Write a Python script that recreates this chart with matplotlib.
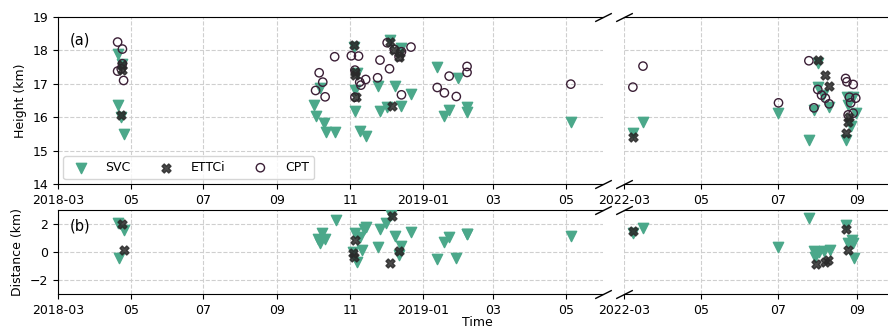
import matplotlib
matplotlib.use('Agg')
import matplotlib.pyplot as plt
import matplotlib.dates as mdates
import pandas as pd

plt.rcParams['font.family'] = ['DejaVu Sans']
plt.rcParams['font.size'] = 9

# ---------------- data ----------------
svc_h_dates = ['2018-04-20', '2018-04-24', '2018-04-20', '2018-04-23', '2018-04-25',
               '2018-10-02', '2018-10-03', '2018-10-07', '2018-10-10', '2018-10-12', '2018-10-19',
               '2018-11-04', '2018-11-05', '2018-11-05', '2018-11-07', '2018-11-09', '2018-11-14',
               '2018-11-24', '2018-11-26', '2018-12-02', '2018-12-04', '2018-12-09', '2018-12-14',
               '2018-12-14', '2018-12-22', '2019-01-13', '2019-01-19', '2019-01-23', '2019-01-30',
               '2019-02-07', '2019-02-07', '2019-05-05',
               '2022-03-08', '2022-03-16', '2022-07-01', '2022-07-25', '2022-07-29', '2022-08-01',
               '2022-08-01', '2022-08-05', '2022-08-10', '2022-08-23', '2022-08-24', '2022-08-25',
               '2022-08-27', '2022-08-29', '2022-08-31']
svc_h = [17.88, 17.60, 16.38, 16.02, 15.50,
         16.37, 16.04, 16.86, 15.82, 15.57, 15.57,
         18.11, 16.18, 16.81, 17.31, 15.59, 15.44,
         16.93, 16.18, 16.30, 18.31, 16.93, 18.06,
         16.33, 16.69, 17.49, 16.04, 16.22, 17.16,
         16.31, 16.17, 15.87,
         15.52, 15.87, 16.13, 15.32, 16.23, 17.61,
         16.91, 16.66, 16.31, 15.32, 16.61, 16.37,
         15.74, 16.61, 16.12]

ettci_h_dates = ['2018-04-24', '2018-04-24', '2018-04-23',
                 '2018-11-04', '2018-11-05', '2018-11-05', '2018-11-06',
                 '2018-12-04', '2018-12-08', '2018-12-12', '2018-12-13', '2018-12-06',
                 '2022-03-08', '2022-08-01', '2022-08-07', '2022-08-10', '2022-08-23',
                 '2022-08-25', '2022-08-26']
ettci_h = [17.55, 17.40, 16.07,
           18.17, 17.36, 17.26, 16.61,
           18.26, 18.01, 17.81, 17.91, 16.33,
           15.42, 17.71, 17.26, 16.93, 15.54,
           15.87, 16.00]

cpt_dates = ['2018-04-20', '2018-04-24', '2018-04-24', '2018-04-20', '2018-04-25', '2018-04-23',
             '2018-10-06', '2018-10-09', '2018-10-03', '2018-10-11', '2018-10-19',
             '2018-11-02', '2018-11-08', '2018-11-05', '2018-11-09', '2018-11-10', '2018-11-14',
             '2018-11-05', '2018-11-24', '2018-11-26', '2018-12-04', '2018-12-02', '2018-12-08',
             '2018-12-14', '2018-12-12', '2018-12-22', '2018-12-14', '2019-01-13', '2019-01-19',
             '2019-01-23', '2019-01-29', '2019-02-07', '2019-02-07', '2019-05-05',
             '2022-03-08', '2022-03-16', '2022-07-01', '2022-07-25', '2022-07-29', '2022-08-01',
             '2022-08-04', '2022-08-07', '2022-08-10', '2022-08-23', '2022-08-24', '2022-08-29',
             '2022-08-26', '2022-08-27', '2022-08-31', '2022-08-25', '2022-08-29']
cpt_h = [18.25, 18.04, 17.60, 17.38, 17.10, 17.45,
         17.33, 17.05, 16.80, 16.61, 17.81,
         17.84, 17.83, 17.41, 17.05, 16.96, 17.13,
         16.60, 17.18, 17.71, 17.45, 18.23, 18.03,
         17.96, 17.81, 18.10, 16.67, 16.89, 16.73,
         17.23, 16.62, 17.52, 17.34, 16.99,
         16.90, 17.53, 16.43, 17.69, 16.28, 16.83,
         16.66, 16.57, 16.40, 17.16, 17.06, 16.98,
         16.60, 16.43, 16.57, 16.07, 16.12]

svc_d_dates = ['2018-04-20', '2018-04-25', '2018-04-21',
               '2018-10-05', '2018-10-07', '2018-10-08', '2018-10-11', '2018-10-20',
               '2018-11-05', '2018-11-03', '2018-11-11', '2018-11-07', '2018-11-09', '2018-11-13',
               '2018-11-14', '2018-11-24', '2018-11-26', '2018-12-01', '2018-12-05', '2018-12-09',
               '2018-12-12', '2018-12-14', '2018-12-22', '2019-01-13', '2019-01-19', '2019-01-23',
               '2019-01-29', '2019-02-07', '2019-02-07', '2019-05-05',
               '2022-03-08', '2022-03-16', '2022-07-01', '2022-07-25', '2022-07-29', '2022-08-02',
               '2022-08-06', '2022-08-11', '2022-07-30', '2022-08-23', '2022-08-25', '2022-08-29',
               '2022-08-30', '2022-08-28']
svc_d = [2.07, 1.55, -0.43,
         0.90, 0.62, 1.38, 0.90, 2.29,
         1.38, 0.02, 0.14, -0.69, 1.10, 1.62,
         1.76, 0.33, 1.62, 2.05, 2.64, 1.14,
         -0.21, 0.43, 1.45, -0.50, 0.74, 1.10,
         -0.45, 1.26, 1.30, 1.14,
         1.38, 1.74, 0.33, 2.40, 0.10, 0.02,
         0.10, 0.14, -0.33, 1.93, 0.62, 0.62,
         -0.45, 0.86]

ettci_d_dates = ['2018-04-24', '2018-04-25',
                 '2018-11-05', '2018-11-03', '2018-11-04', '2018-12-04', '2018-12-06', '2018-12-12',
                 '2022-03-08', '2022-07-31', '2022-08-07', '2022-08-09', '2022-08-23', '2022-08-25']
ettci_d = [2.00, 0.14,
           0.86, -0.10, -0.33, -0.76, 2.57, 0.10,
           1.52, -0.86, -0.69, -0.57, 1.62, 0.14]

left_lim = ['2018-03-01', '2019-06-01']
right_lim = ['2022-03-01', '2022-10-01']
series_labels = ['SVC', 'ETTCi', 'CPT']

# ---------------- styling ----------------
c_svc = '#4ba88a'
c_ettci = '#2a2a2a'
c_cpt = '#3b1f36'

W, H = 888, 329
fig = plt.figure(figsize=(W / 100, H / 100), dpi=100)


def rect(x0, x1, y0, y1):
    return [x0 / W, 1 - y1 / H, (x1 - x0) / W, (y1 - y0) / H]


ax_a1 = fig.add_axes(rect(58, 603, 17, 184))
ax_a2 = fig.add_axes(rect(624, 895, 17, 184))
ax_b1 = fig.add_axes(rect(58, 603, 210, 294))
ax_b2 = fig.add_axes(rect(624, 895, 210, 294))


def fmt(x, pos):
    d = mdates.num2date(x)
    if pos == 0 or d.month == 1:
        return d.strftime('%Y-%m')
    return d.strftime('%m')


def dt(lst):
    return pd.to_datetime(lst)


for ax in (ax_a1, ax_a2):
    ax.scatter(dt(svc_h_dates), svc_h, marker='v', s=55, color=c_svc, zorder=3, label=series_labels[0])
    ax.scatter(dt(cpt_dates), cpt_h, marker='o', s=36, facecolor='none', edgecolor=c_cpt,
               linewidths=1.0, zorder=4, label=series_labels[2])
    ax.scatter(dt(ettci_h_dates), ettci_h, marker='X', s=42, color=c_ettci, alpha=0.85,
               zorder=5, label=series_labels[1])
    ax.set_ylim(14, 19)

for ax in (ax_b1, ax_b2):
    ax.scatter(dt(svc_d_dates), svc_d, marker='v', s=55, color=c_svc, zorder=3)
    ax.scatter(dt(ettci_d_dates), ettci_d, marker='X', s=42, color=c_ettci, alpha=0.85, zorder=5)
    ax.set_ylim(-3, 3)
    ax.set_yticks([-2, 0, 2])

for ax in (ax_a1, ax_b1):
    ax.set_xlim(pd.to_datetime(left_lim[0]), pd.to_datetime(left_lim[1]))
    ax.spines['right'].set_visible(False)
for ax in (ax_a2, ax_b2):
    ax.set_xlim(pd.to_datetime(right_lim[0]), pd.to_datetime(right_lim[1]))
    ax.spines['left'].set_visible(False)
    ax.tick_params(left=False, labelleft=False)

d = .5
kw = dict(marker=[(-1, -d), (1, d)], markersize=12, linestyle='none', color='k',
          mec='k', mew=1, clip_on=False)
for ax in (ax_a1, ax_a2, ax_b1, ax_b2):
    ax.xaxis.set_major_locator(mdates.MonthLocator(bymonth=[1, 3, 5, 7, 9, 11]))
    ax.xaxis.set_major_formatter(plt.FuncFormatter(fmt))
    ax.grid(True, ls='--', color='#cfcfcf', lw=0.8)
    ax.set_axisbelow(True)
for ax in (ax_a1, ax_b1):
    ax.plot([1, 1], [0, 1], transform=ax.transAxes, **kw)
for ax in (ax_a2, ax_b2):
    ax.plot([0, 0], [0, 1], transform=ax.transAxes, **kw)

ax_a1.set_ylabel('Height (km)')
ax_b1.set_ylabel('Distance (km)')
ax_a1.text(0.022, 0.86, '(a)', transform=ax_a1.transAxes, fontsize=10.5, va='center')
ax_b1.text(0.022, 0.81, '(b)', transform=ax_b1.transAxes, fontsize=10.5, va='center')
fig.text(477 / W, 1 - 316 / H, 'Time', ha='center', va='top')

h, l = ax_a1.get_legend_handles_labels()
order = [0, 2, 1]
ax_a1.legend([h[i] for i in order], [l[i] for i in order], loc='lower left', ncol=3,
             columnspacing=1.8, handletextpad=1.0, borderaxespad=0.4, fontsize=9)

fig.savefig('out.png', dpi=100)
